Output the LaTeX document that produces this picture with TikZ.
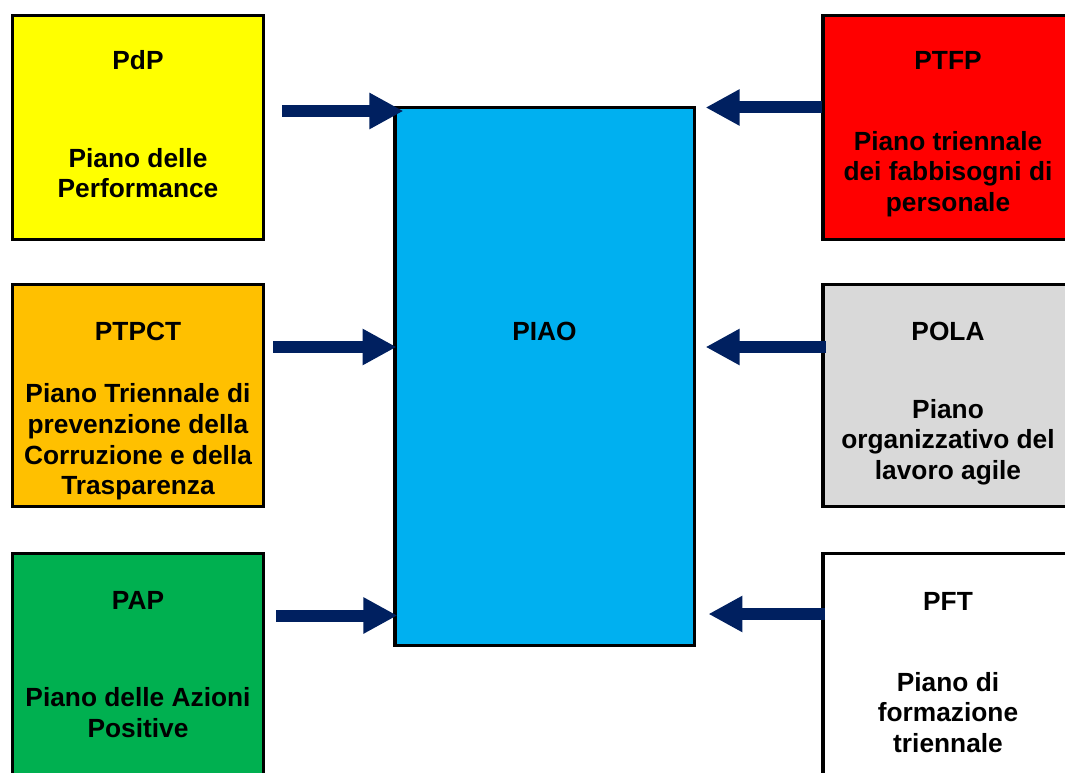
\documentclass[tikz,border=0pt]{standalone}
\usepackage{fontspec}
\setmainfont{Liberation Sans}
\usetikzlibrary{arrows.meta}

\definecolor{piaoblue}{HTML}{00B0F0}
\definecolor{pdpyellow}{HTML}{FFFF00}
\definecolor{ptpctorange}{HTML}{FFC000}
\definecolor{papgreen}{HTML}{00B050}
\definecolor{ptfpred}{HTML}{FF0000}
\definecolor{polagray}{HTML}{D9D9D9}
\definecolor{arrnavy}{HTML}{002060}

\begin{document}
\begin{tikzpicture}[x=0.025cm,y=-0.025cm,
    font=\fontsize{18.7}{21.8}\selectfont\bfseries,
    box/.style={draw=black,line width=2.2pt,minimum width=6.275cm,inner sep=0pt},
    lbl/.style={align=center,inner sep=0pt},
    arr/.style={draw=arrnavy,line width=0.3cm,-{Triangle[length=0.85cm,width=0.85cm]}}]
    \useasboundingbox (0,0) rectangle (1065,773);
    \clip (0,0) rectangle (1065,773);

    % left column
    \node[box,fill=pdpyellow,minimum height=5.6cm] (pdp) at (138,127.5) {};
    \node[box,fill=ptpctorange,minimum height=5.55cm] (ptpct) at (138,395.5) {};
    \node[box,fill=papgreen,minimum height=6cm] (pap) at (138,673.5) {};

    % right column
    \node[box,fill=ptfpred,minimum height=5.6cm] (ptfp) at (948.5,127.5) {};
    \node[box,fill=polagray,minimum height=5.55cm] (pola) at (948.5,395.5) {};
    \node[box,fill=white,minimum height=6cm] (pft) at (948.5,673.5) {};

    % centre
    \node[box,fill=piaoblue,minimum width=7.475cm,minimum height=13.425cm]
        (piao) at (544.5,376.5) {};
    \node[lbl] (piaotitle) at (544.5,331) {PIAO};

    \node[lbl] (pdptitle) at (138,60) {PdP};
    \node[lbl] (pdptext) at (138,173) {Piano delle\\Performance};
    \node[lbl] (ptpcttitle) at (138,331) {PTPCT};
    \node[lbl] (ptpcttext) at (138,442)
        {Piano Triennale di\\prevenzione della\\Corruzione e della\\Trasparenza};
    \node[lbl] (paptitle) at (138,600) {PAP};
    \node[lbl] (paptext) at (138,712.5) {Piano delle Azioni\\Positive};

    \node[lbl] (ptfptitle) at (948,60) {PTFP};
    \node[lbl] (ptfptext) at (948,174)
        {Piano triennale\\dei fabbisogni di\\personale};
    \node[lbl] (polatitle) at (948,331) {POLA};
    \node[lbl] (polatext) at (948,442)
        {Piano\\organizzativo del\\lavoro agile};
    \node[lbl] (pfttitle) at (948,601) {PFT};
    \node[lbl] (pfttext) at (948,712.5) {Piano di\\formazione\\triennale};

    % arrows into PIAO
    \coordinate (inpdp) at (282,111);
    \coordinate (inptpct) at (273,347);
    \coordinate (inpap) at (276,615.5);
    \coordinate (inptfp) at (822,107.5);
    \coordinate (inpola) at (826,347);
    \coordinate (inpft) at (825,614);
    \draw[arr] (inpdp) -- ([xshift=0.25cm]piao.west |- inpdp);
    \draw[arr] (inptpct) -- ([xshift=0.08cm]piao.west |- inptpct);
    \draw[arr] (inpap) -- ([xshift=0.1cm]piao.west |- inpap);
    \draw[arr] (inptfp) -- ([xshift=0.25cm]piao.east |- inptfp);
    \draw[arr] (inpola) -- ([xshift=0.25cm]piao.east |- inpola);
    \draw[arr] (inpft) -- ([xshift=0.32cm]piao.east |- inpft);
\end{tikzpicture}
\end{document}
